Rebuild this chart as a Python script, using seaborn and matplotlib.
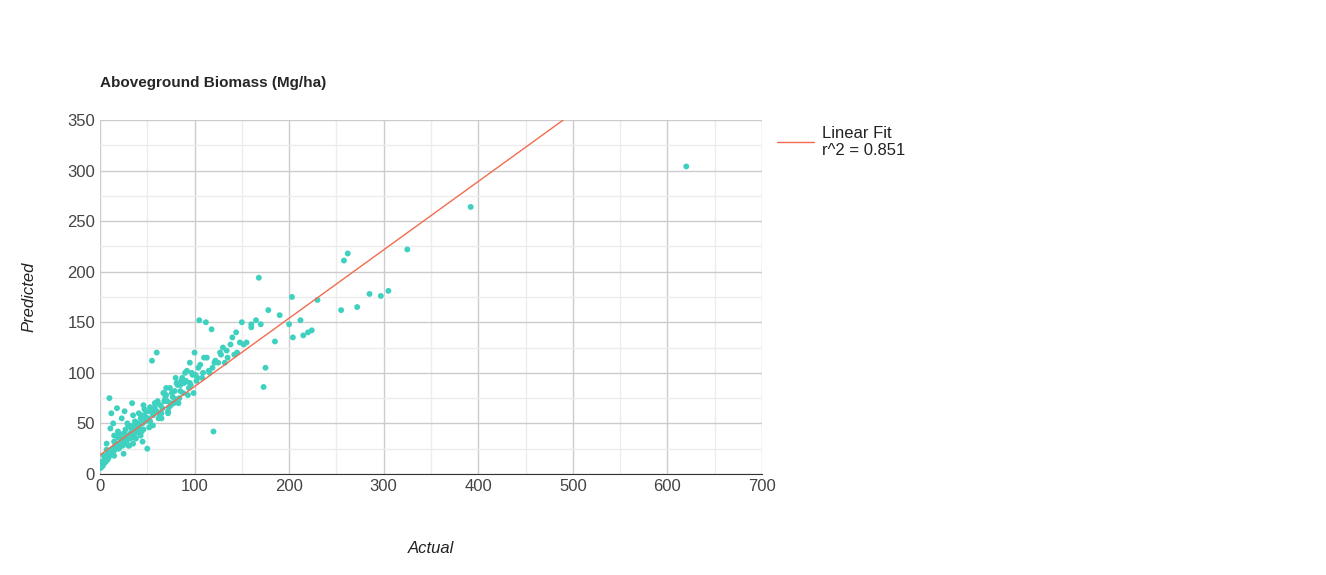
import matplotlib.pyplot as plt
import seaborn as sns
import pandas as pd

# hand-read points (Actual, Predicted)
actual = [620, 392, 325, 305, 297, 285, 272, 255, 262, 258, 230, 224, 215, 212, 203, 200, 190, 185,
          175, 173, 168, 170, 165, 160, 155, 150, 145, 140, 135, 130, 125, 120, 118, 112, 105, 108,
          100, 95, 90, 85, 80, 75, 70, 65, 60, 55, 50, 148, 142, 138, 132, 128, 122, 116, 110, 104,
          102, 98, 96, 92, 88, 86, 84, 82, 78, 76, 72, 68, 66, 62, 58, 56, 52, 48, 46, 44, 42, 40,
          38, 36, 34, 32, 30, 28, 26, 24, 22, 20, 18, 16, 14, 12, 10, 8, 6, 4, 2, 1, 3, 5,
          7, 9, 11, 13, 15, 17, 19, 21, 23, 25, 27, 29, 31, 33, 35, 37, 39, 41, 43, 45,
          47, 49, 51, 53, 57, 61, 64, 67, 71, 74, 77, 81, 87, 91, 94, 97, 101, 106, 113, 119,
          10, 12, 14, 18, 22, 26, 30, 34, 38, 42, 46, 54, 59, 63, 69, 73, 79, 83, 89, 93,
          99, 103, 109, 115, 121, 127, 134, 144, 152, 160, 178, 204, 220, 5, 8, 15, 20, 25, 35, 45,
          3, 6, 9, 12, 16, 20, 24, 28, 32, 36, 40, 44, 48, 52, 56, 60, 65, 70, 75, 80,
          2, 4, 7, 11, 15, 19, 23, 27, 31, 35, 39, 43, 47, 53, 58, 63, 68, 72, 85, 95]
predicted = [304, 264, 222, 181, 176, 178, 165, 162, 218, 211, 172, 142, 137, 152, 175, 148, 157, 131,
             105, 86, 194, 148, 152, 148, 130, 150, 120, 135, 115, 125, 110, 42, 143, 150, 152, 95,
             120, 110, 100, 88, 95, 70, 85, 60, 120, 112, 25, 130, 118, 128, 110, 118, 112, 100, 115, 105,
             92, 98, 88, 102, 80, 92, 75, 88, 70, 80, 60, 72, 65, 55, 70, 48, 62, 52, 44, 58, 40, 50,
             45, 38, 42, 35, 48, 30, 40, 28, 35, 25, 30, 24, 22, 20, 18, 14, 12, 10, 8, 6, 9, 12,
             30, 20, 45, 25, 38, 28, 42, 30, 55, 40, 35, 50, 38, 45, 48, 52, 42, 60, 55, 50,
             58, 62, 55, 66, 62, 72, 68, 80, 72, 85, 76, 90, 95, 92, 85, 100, 98, 108, 115, 105,
             75, 60, 50, 65, 35, 62, 28, 70, 35, 45, 68, 48, 70, 58, 75, 66, 82, 70, 90, 78,
             80, 95, 100, 102, 110, 120, 122, 140, 128, 145, 162, 135, 140, 15, 22, 18, 40, 20, 30, 32,
             8, 14, 16, 22, 28, 26, 34, 32, 40, 36, 50, 42, 56, 46, 58, 62, 55, 78, 68, 74,
             12, 18, 24, 20, 32, 36, 30, 44, 28, 58, 46, 38, 64, 52, 66, 60, 80, 62, 82, 90]
fit_x = [0, 490]
fit_y = [18.8, 350]

df = pd.DataFrame({'Actual': actual, 'Predicted': predicted})

sns.set_style('white')
plt.rcParams['font.family'] = ['Liberation Sans', 'DejaVu Sans']
fig = plt.figure(figsize=(13.26, 5.75), dpi=100)
ax = fig.add_axes([0.0754, 0.1757, 0.4992, 0.6157])

sns.scatterplot(data=df, x='Actual', y='Predicted', color='#3fd1c0', s=18, edgecolor='none', ax=ax, zorder=3)
ax.plot(fit_x, fit_y, color='#f26b50', lw=1, zorder=4, label='Linear Fit\nr^2 = 0.851')

ax.set_xlim(0, 700)
ax.set_ylim(0, 350)
ax.set_xticks(range(0, 701, 100))
ax.set_yticks(range(0, 351, 50))
ax.set_xticks(range(50, 700, 100), minor=True)
ax.set_yticks(range(25, 350, 50), minor=True)
ax.grid(which='major', color='#cccccc', lw=1)
ax.grid(which='minor', color='#ececec', lw=1)
ax.set_axisbelow(True)
ax.tick_params(which='both', length=0, labelsize=12, colors='#444444')
for s in ['top', 'right', 'left']:
    ax.spines[s].set_visible(False)
ax.spines['bottom'].set_color('#333333')

ax.set_xlabel('Actual', style='italic', fontsize=12, color='#222222', labelpad=34)
ax.set_ylabel('Predicted', style='italic', fontsize=12, color='#222222', labelpad=22)
ax.set_title('Aboveground Biomass (Mg/ha)', loc='left', fontsize=11, fontweight='bold', pad=24)

ax.legend(loc='upper left', bbox_to_anchor=(1.0, 1.025), frameon=False, fontsize=12,
          handlelength=2.2, handletextpad=0.5, labelcolor='#222222')

fig.savefig('out.png', dpi=100)
